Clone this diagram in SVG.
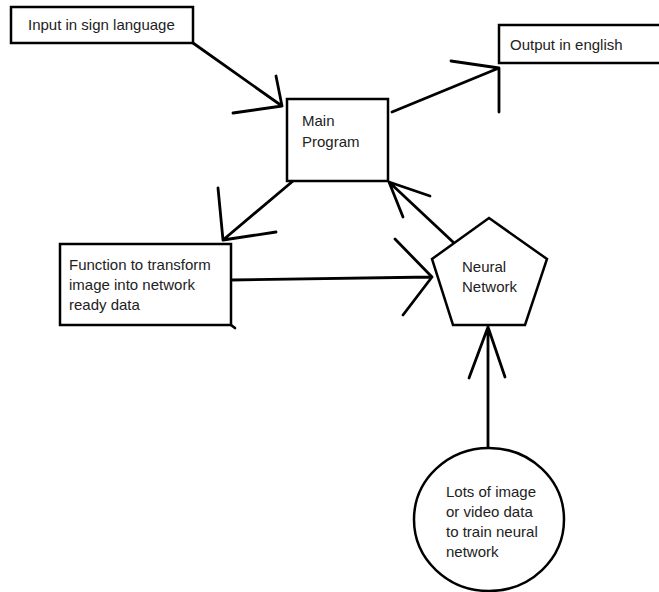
<svg xmlns="http://www.w3.org/2000/svg" width="659" height="592" viewBox="0 0 659 592">
<style>
.n{fill:#fff;stroke:#000;stroke-width:2.5}
.t{font-family:"Liberation Sans",Arial,sans-serif;font-size:15px;fill:#222}
.c{fill:none;stroke:#000;stroke-width:2.8;stroke-linecap:round;stroke-linejoin:round}
</style>
<rect width="659" height="592" fill="#fff"/>
<g id="connectors">
<path class="c" d="M193,43 L282,106 M276,76 L282,106 L233,113"/>
<path class="c" d="M392,112 L499,68 M451,61 L499,68 L499,112"/>
<path class="c" d="M293,181 L223,240 M218,188 L223,240 L276,232"/>
<path class="c" d="M231,280 L432,277 M395,239 L432,277 L403,315"/>
<path class="c" d="M453,242 L389,182 M430,196 L389,182 L403,217"/>
<path class="c" d="M488,447 L488,327 M469,378 L488,327 L505,377"/>
</g>
<g id="input">
<rect class="n" x="11" y="7" width="182" height="36"/>
<text class="t" x="28" y="30">Input in sign language</text>
</g>
<g id="main">
<rect class="n" x="287" y="99" width="101" height="82"/>
<text class="t" x="302" y="126">Main</text>
<text class="t" x="302" y="147">Program</text>
</g>
<g id="output">
<rect class="n" x="499" y="25" width="165" height="38"/>
<text class="t" x="510" y="50">Output in english</text>
</g>
<g id="function">
<rect class="n" x="60" y="244" width="171" height="81"/>
<path class="c" d="M231,325 L235,328"/>
<text class="t" x="69" y="270">Function to transform</text>
<text class="t" x="69" y="290">image into network</text>
<text class="t" x="69" y="310">ready data</text>
</g>
<g id="neural">
<polygon class="n" points="489,218 547,259 525,325 453,325 432,259"/>
<text class="t" x="462" y="272">Neural</text>
<text class="t" x="462" y="292">Network</text>
</g>
<g id="data">
<ellipse class="n" cx="489" cy="519.5" rx="75" ry="71.5"/>
<text class="t" x="446" y="497">Lots of image</text>
<text class="t" x="446" y="517">or video data</text>
<text class="t" x="446" y="537">to train neural</text>
<text class="t" x="446" y="557">network</text>
</g>
</svg>
